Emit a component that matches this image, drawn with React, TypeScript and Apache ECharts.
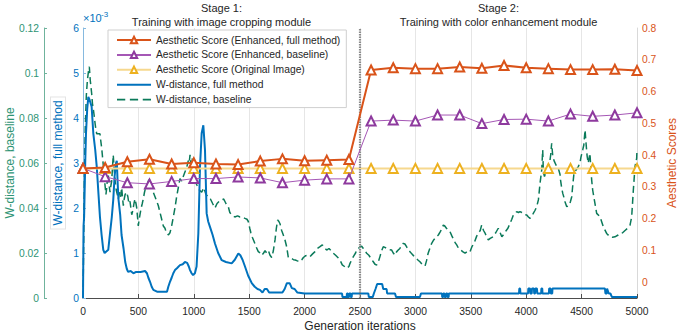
import React, { useEffect, useRef } from "react";
import * as echarts from "echarts";

const FONT = "'Liberation Sans', Arial, Helvetica, sans-serif";

const scoreIters = [0, 200, 400, 600, 800, 1000, 1200, 1400, 1600, 1800, 2000, 2200, 2400, 2600, 2800, 3000, 3200, 3400, 3600, 3800, 4000, 4200, 4400, 4600, 4800, 5000];
const scoreFull = [0.358, 0.361, 0.379, 0.387, 0.372, 0.376, 0.372, 0.37, 0.381, 0.388, 0.382, 0.384, 0.386, 0.668, 0.675, 0.672, 0.672, 0.677, 0.673, 0.682, 0.675, 0.672, 0.669, 0.669, 0.67, 0.666];
const scoreBaseline = [0.358, 0.332, 0.313, 0.309, 0.317, 0.326, 0.326, 0.331, 0.328, 0.313, 0.321, 0.325, 0.325, 0.507, 0.51, 0.507, 0.526, 0.526, 0.499, 0.512, 0.513, 0.507, 0.529, 0.522, 0.526, 0.533];
const scoreOriginal = [0.358, 0.358, 0.358, 0.358, 0.358, 0.358, 0.358, 0.358, 0.358, 0.358, 0.358, 0.358, 0.358, 0.358, 0.358, 0.358, 0.358, 0.358, 0.358, 0.358, 0.358, 0.358, 0.358, 0.358, 0.358, 0.358];

// W-distance, full method (x 1e-3)
const wFull: [number, number][] = [
  [0, 0], [5, 1.6], [10, 1.8], [20, 3.0], [27, 3.66], [38, 4.2], [48, 4.47], [60, 4.4], [78, 4.25], [93, 3.66], [110, 3.3], [124, 2.92], [140, 2.3], [153, 1.8], [168, 1.4], [183, 1.07], [195, 1.0], [228, 1.07], [244, 1.44], [260, 1.8], [273, 2.18], [285, 2.7], [298, 3.0], [305, 3.05], [312, 2.6], [320, 2.2], [336, 1.84], [348, 1.4], [366, 1.1], [381, 0.8], [395, 0.65], [407, 0.58], [430, 0.6], [455, 0.55], [480, 0.58], [520, 0.58], [560, 0.6], [577, 0.55], [590, 0.45], [605, 0.36], [620, 0.25], [635, 0.18], [668, 0.14], [758, 0.14], [770, 0.25], [785, 0.36], [800, 0.45], [815, 0.55], [830, 0.62], [848, 0.66], [875, 0.73], [900, 0.75], [920, 0.8], [940, 0.78], [955, 0.7], [966, 0.62], [980, 0.55], [993, 0.51], [1010, 0.55], [1025, 0.7], [1041, 1.44], [1056, 2.92], [1071, 3.66], [1086, 3.84], [1101, 3.29], [1116, 1.88], [1130, 1.7], [1146, 1.58], [1170, 1.4], [1191, 1.21], [1220, 1.0], [1252, 0.84], [1290, 0.8], [1342, 0.77], [1370, 0.85], [1402, 0.99], [1420, 0.95], [1440, 0.85], [1462, 0.7], [1490, 0.5], [1523, 0.33], [1550, 0.25], [1575, 0.2], [1597, 0.18], [1620, 0.12], [1640, 0.2], [1660, 0.2], [1680, 0.12], [1800, 0.12], [1820, 0.2], [1840, 0.33], [1865, 0.33], [1885, 0.22], [1910, 0.2], [1935, 0.12], [2000, 0.1], [2338, 0.1], [2342, 0.02], [2380, 0.02], [2382, 0.1], [2390, 0.1], [2392, 0.02], [2400, 0.02], [2402, 0.1], [2415, 0.1], [2417, 0.02], [2425, 0.02], [2427, 0.1], [2575, 0.1], [2580, 0.02], [2615, 0.02], [2625, 0.1], [2640, 0.2], [2655, 0.31], [2700, 0.31], [2710, 0.2], [2740, 0.2], [2745, 0.1], [2816, 0.1], [2825, 0.02], [3041, 0.02], [3050, 0.1], [3240, 0.1], [3242, 0.02], [3250, 0.02], [3252, 0.1], [3262, 0.1], [3264, 0.02], [3275, 0.02], [3277, 0.1], [3288, 0.1], [3290, 0.02], [3300, 0.02], [3302, 0.1], [3935, 0.1], [3938, 0.21], [3945, 0.21], [3948, 0.1], [4017, 0.1], [4019, 0.21], [4035, 0.21], [4037, 0.1], [4050, 0.1], [4052, 0.21], [4070, 0.21], [4072, 0.1], [4080, 0.1], [4082, 0.21], [4097, 0.21], [4100, 0.1], [4135, 0.1], [4137, 0.21], [4145, 0.21], [4147, 0.1], [4205, 0.1], [4207, 0.21], [4220, 0.21], [4222, 0.1], [4235, 0.1], [4237, 0.21], [4711, 0.21], [4715, 0.1], [4728, 0.1], [4730, 0.21], [4745, 0.1], [4760, 0.1], [4774, 0.02], [5000, 0.02]
];

// W-distance, baseline
const wBase: [number, number][] = [
  [0, 0], [5, 0.02], [12, 0.05], [20, 0.075], [30, 0.09], [40, 0.097], [50, 0.101], [57, 0.1028], [65, 0.097], [78, 0.091], [86, 0.086], [93, 0.084], [101, 0.081], [108, 0.078], [116, 0.075], [124, 0.073], [140, 0.073], [153, 0.073], [160, 0.07], [169, 0.0665], [183, 0.059], [191, 0.054], [199, 0.05], [207, 0.046], [214, 0.049], [220, 0.053], [228, 0.055], [236, 0.05], [244, 0.047], [252, 0.05], [259, 0.052], [266, 0.058], [273, 0.0636], [280, 0.058], [290, 0.052], [300, 0.048], [310, 0.046], [319, 0.044], [330, 0.047], [340, 0.045], [349, 0.049], [358, 0.044], [364, 0.041], [372, 0.044], [380, 0.046], [394, 0.047], [405, 0.045], [414, 0.042], [424, 0.043], [432, 0.04], [440, 0.037], [450, 0.039], [460, 0.042], [469, 0.044], [478, 0.042], [485, 0.04], [492, 0.036], [499, 0.032], [507, 0.035], [514, 0.037], [525, 0.04], [535, 0.042], [544, 0.044], [555, 0.047], [565, 0.049], [575, 0.05], [590, 0.052], [605, 0.053], [620, 0.05], [634, 0.047], [650, 0.045], [665, 0.043], [680, 0.041], [695, 0.038], [710, 0.035], [725, 0.032], [740, 0.031], [749, 0.0295], [760, 0.029], [770, 0.028], [785, 0.029], [800, 0.032], [815, 0.036], [830, 0.04], [845, 0.045], [860, 0.049], [875, 0.053], [890, 0.052], [905, 0.054], [920, 0.056], [936, 0.058], [950, 0.061], [958, 0.06], [966, 0.0636], [975, 0.059], [985, 0.062], [995, 0.057], [1010, 0.052], [1030, 0.05], [1050, 0.048], [1071, 0.047], [1090, 0.049], [1110, 0.046], [1131, 0.045], [1150, 0.044], [1170, 0.042], [1191, 0.04], [1210, 0.042], [1230, 0.043], [1252, 0.0435], [1270, 0.044], [1290, 0.042], [1311, 0.0406], [1325, 0.038], [1342, 0.037], [1370, 0.036], [1395, 0.0365], [1417, 0.036], [1440, 0.036], [1462, 0.0354], [1480, 0.035], [1492, 0.034], [1505, 0.031], [1515, 0.029], [1528, 0.027], [1545, 0.025], [1560, 0.023], [1582, 0.0206], [1600, 0.02], [1613, 0.019], [1630, 0.02], [1643, 0.021], [1658, 0.02], [1673, 0.021], [1688, 0.019], [1703, 0.018], [1718, 0.021], [1733, 0.0258], [1745, 0.031], [1757, 0.0347], [1768, 0.034], [1778, 0.033], [1793, 0.03], [1808, 0.028], [1823, 0.0258], [1838, 0.0228], [1853, 0.018], [1868, 0.0178], [1883, 0.0176], [1900, 0.017], [1915, 0.0169], [1935, 0.0165], [1958, 0.0161], [1975, 0.017], [1989, 0.018], [2010, 0.0188], [2030, 0.019], [2049, 0.0184], [2070, 0.0195], [2094, 0.0206], [2115, 0.022], [2139, 0.0228], [2160, 0.0236], [2175, 0.0225], [2199, 0.0213], [2220, 0.022], [2240, 0.021], [2259, 0.0199], [2280, 0.019], [2300, 0.018], [2319, 0.0169], [2340, 0.0147], [2360, 0.014], [2380, 0.0132], [2400, 0.014], [2410, 0.0154], [2425, 0.017], [2440, 0.0184], [2460, 0.02], [2470, 0.0213], [2485, 0.022], [2500, 0.0228], [2515, 0.023], [2530, 0.022], [2545, 0.021], [2560, 0.0199], [2580, 0.019], [2600, 0.0175], [2620, 0.0161], [2635, 0.015], [2651, 0.0147], [2665, 0.016], [2680, 0.0184], [2695, 0.021], [2710, 0.0228], [2725, 0.0225], [2740, 0.022], [2760, 0.0215], [2786, 0.0213], [2800, 0.02], [2816, 0.019], [2830, 0.0205], [2845, 0.0213], [2860, 0.022], [2875, 0.0235], [2891, 0.0243], [2905, 0.024], [2920, 0.0228], [2935, 0.0215], [2951, 0.0206], [2970, 0.0195], [2990, 0.0184], [3010, 0.0175], [3025, 0.0168], [3041, 0.0161], [3060, 0.015], [3075, 0.0145], [3087, 0.0142], [3100, 0.0165], [3115, 0.0199], [3130, 0.022], [3147, 0.0243], [3165, 0.0258], [3185, 0.027], [3207, 0.028], [3225, 0.0295], [3240, 0.031], [3252, 0.0324], [3265, 0.032], [3280, 0.031], [3295, 0.03], [3312, 0.0295], [3330, 0.0275], [3345, 0.026], [3360, 0.0245], [3373, 0.0236], [3390, 0.022], [3410, 0.0213], [3430, 0.0205], [3448, 0.0199], [3465, 0.0205], [3480, 0.021], [3493, 0.0206], [3510, 0.0228], [3530, 0.0243], [3553, 0.0275], [3570, 0.029], [3585, 0.03], [3598, 0.0324], [3615, 0.03], [3630, 0.0287], [3645, 0.027], [3658, 0.0258], [3675, 0.0265], [3700, 0.0272], [3725, 0.029], [3748, 0.031], [3765, 0.029], [3780, 0.0272], [3800, 0.0285], [3820, 0.03], [3835, 0.031], [3854, 0.0332], [3870, 0.035], [3884, 0.0369], [3900, 0.0375], [3914, 0.0384], [3930, 0.038], [3944, 0.0384], [3960, 0.038], [3975, 0.0376], [3990, 0.037], [4005, 0.0369], [4020, 0.036], [4035, 0.0354], [4050, 0.0365], [4064, 0.0376], [4080, 0.039], [4095, 0.0406], [4110, 0.0436], [4125, 0.051], [4140, 0.0569], [4149, 0.0658], [4155, 0.056], [4165, 0.054], [4175, 0.0555], [4190, 0.057], [4200, 0.059], [4215, 0.0613], [4222, 0.064], [4230, 0.0688], [4240, 0.0628], [4255, 0.0606], [4270, 0.059], [4290, 0.0576], [4305, 0.055], [4310, 0.0524], [4320, 0.049], [4330, 0.0465], [4345, 0.044], [4350, 0.0428], [4366, 0.0406], [4380, 0.0409], [4390, 0.0413], [4400, 0.043], [4411, 0.045], [4420, 0.05], [4431, 0.0554], [4450, 0.0569], [4470, 0.0584], [4485, 0.06], [4495, 0.0628], [4510, 0.0658], [4520, 0.068], [4531, 0.0747], [4540, 0.0688], [4550, 0.063], [4560, 0.0599], [4575, 0.0643], [4591, 0.0524], [4600, 0.048], [4615, 0.0436], [4636, 0.0376], [4666, 0.0361], [4696, 0.0317], [4726, 0.0287], [4756, 0.0272], [4780, 0.027], [4801, 0.0272], [4830, 0.028], [4847, 0.0287], [4870, 0.029], [4892, 0.03], [4915, 0.031], [4937, 0.0324], [4952, 0.0361], [4967, 0.048], [4982, 0.0584], [4997, 0.0621], [5000, 0.066]
];

const stageSplit = 2500;
const stageLabels = [
  { center: 1250, head: "Stage 1:", body: "Training with image cropping module" },
  { center: 3750, head: "Stage 2:", body: "Training with color enhancement module" },
];

const GRID = { left: 83, top: 28, width: 554, height: 270 };
const X_MAX = 5000;

const C_ORANGE = "#D95319";
const C_PURPLE = "#8E3A9E";
const C_YELLOW = "#EDB120";
const C_BLUE = "#0072BD";
const C_GREEN = "#0B7A5A";
const C_TEAL_AX = "#2E9474";
const C_TEXT = "#262626";

const SOLID_ICON = "path://M0,0H33V2H0Z";
const DASH_ICON = "path://M0,0H8V1.6H0Z M12.5,0H20.5V1.6H12.5Z M25,0H33V1.6H25Z";

export default function App() {
  const ref = useRef<HTMLDivElement>(null);
  useEffect(() => {
    if (!ref.current) return;
    const chart = echarts.init(ref.current, undefined, { renderer: "svg" });
    const xPix = (v: number) => GRID.left + (v / X_MAX) * GRID.width;
    const graphic: any[] = [];
    stageLabels.forEach((s) => {
      graphic.push({ type: "text", x: xPix(s.center), y: 8, style: { text: s.head, fontSize: 11, fontFamily: FONT, fill: C_TEXT, textAlign: "center", textVerticalAlign: "middle" } });
      graphic.push({ type: "text", x: xPix(s.center), y: 22, style: { text: s.body, fontSize: 11, fontFamily: FONT, fill: C_TEXT, textAlign: "center", textVerticalAlign: "middle" } });
    });
    graphic.push({ type: "text", x: 83, y: 18, style: { text: "×10", fontSize: 11, fontFamily: FONT, fill: C_BLUE, textAlign: "left", textVerticalAlign: "middle" } });
    graphic.push({ type: "text", x: 101, y: 14, style: { text: "-3", fontSize: 8, fontFamily: FONT, fill: C_BLUE, textAlign: "left", textVerticalAlign: "middle" } });

    const tickFont = { fontSize: 10.3, fontFamily: FONT };
    const nameFont = { fontSize: 12, fontFamily: FONT };

    chart.setOption({
      animation: false,
      backgroundColor: "#fff",
      textStyle: { fontFamily: FONT },
      grid: { left: GRID.left, top: GRID.top, width: GRID.width, height: GRID.height, containLabel: false, outerBoundsMode: "none" },
      legend: {
        left: 108,
        top: 30,
        orient: "vertical",
        itemWidth: 34,
        itemHeight: 8,
        itemGap: 4.9,
        padding: [5, 6, 3, 8],
        backgroundColor: "#fff",
        borderColor: "#cfcfcf",
        borderWidth: 1,
        selectedMode: false,
        textStyle: { fontSize: 10.3, color: C_TEXT, fontFamily: FONT },
        data: [
          { name: "Aesthetic Score (Enhanced, full method)" },
          { name: "Aesthetic Score (Enhanced, baseline)" },
          { name: "Aesthetic Score (Original Image)" },
          { name: "W-distance, full method", icon: SOLID_ICON },
          { name: "W-distance, baseline", icon: DASH_ICON },
        ],
      },
      xAxis: {
        type: "value",
        min: 0,
        max: X_MAX,
        interval: 500,
        axisLine: { show: true, onZero: false, lineStyle: { color: "#4d4d4d", width: 1 } },
        axisTick: { show: true, inside: true, length: 4, lineStyle: { color: "#4d4d4d" } },
        axisLabel: { ...tickFont, color: C_TEXT, margin: 8, formatter: (v: number) => String(v) },
        splitLine: { show: true, lineStyle: { color: "#e6e6e6", width: 1 } },
        name: "Generation iterations",
        nameLocation: "middle",
        nameGap: 22,
        nameMoveOverlap: false,
        nameTextStyle: { ...nameFont, color: C_TEXT },
      },
      yAxis: [
        {
          type: "value",
          position: "left",
          min: 0,
          max: 6,
          interval: 1,
          axisLine: { show: true, onZero: false, lineStyle: { color: "#86b9df", width: 1 } },
          axisTick: { show: true, inside: true, length: 3, lineStyle: { color: "#86b9df" } },
          axisLabel: { ...tickFont, color: C_BLUE, margin: 4 },
          splitLine: { show: false },
          name: "W-distance, full method",
          nameLocation: "middle",
          nameGap: 18,
          nameRotate: 90,
          nameMoveOverlap: false,
          nameTextStyle: { ...nameFont, color: C_BLUE, backgroundColor: "#fff", borderColor: "#e4e4e4", borderWidth: 1, padding: [1, 3, 1, 3] },
        },
        {
          type: "value",
          position: "left",
          offset: 39,
          min: 0,
          max: 0.12,
          interval: 0.02,
          axisLine: { show: true, onZero: false, lineStyle: { color: "#6fb39c", width: 1 } },
          axisTick: { show: true, inside: true, length: 3, lineStyle: { color: "#6fb39c" } },
          axisLabel: { ...tickFont, color: C_TEAL_AX, margin: 5 },
          splitLine: { show: false },
          name: "W-distance, baseline",
          nameLocation: "middle",
          nameGap: 28,
          nameRotate: 90,
          nameMoveOverlap: false,
          nameTextStyle: { ...nameFont, color: C_TEAL_AX },
        },
        {
          type: "value",
          position: "right",
          min: -0.05,
          max: 0.8,
          interval: 0.05,
          axisLine: { show: true, onZero: false, lineStyle: { color: "#d9d9d9", width: 1 } },
          axisTick: { show: false },
          axisLabel: {
            ...tickFont,
            color: C_ORANGE,
            margin: 5,
            formatter: (v: number) => {
              const k = Math.round(v * 100);
              if (k % 10 !== 0) return "";
              return String(k / 100);
            },
          },
          splitLine: { show: false },
          name: "Aesthetic Scores",
          nameLocation: "middle",
          nameGap: 28.5,
          nameRotate: 90,
          nameMoveOverlap: false,
          nameTextStyle: { ...nameFont, color: C_ORANGE },
        },
      ],
      series: [
        {
          type: "line",
          name: "W-distance, baseline",
          yAxisIndex: 1,
          data: wBase,
          symbol: "none",
          lineStyle: { color: C_GREEN, width: 1.5, type: [7, 4] },
          itemStyle: { color: C_GREEN },
          z: 2,
        },
        {
          type: "line",
          name: "W-distance, full method",
          yAxisIndex: 0,
          data: wFull,
          symbol: "none",
          lineStyle: { color: C_BLUE, width: 2 },
          itemStyle: { color: C_BLUE },
          z: 3,
          markLine: {
            silent: true,
            symbol: ["none", "none"],
            label: { show: false },
            lineStyle: { color: "#8a8a8a", width: 2.2, type: [1.5, 1] },
            data: [{ xAxis: stageSplit }],
          },
        },
        {
          type: "line",
          name: "Aesthetic Score (Original Image)",
          yAxisIndex: 2,
          data: scoreIters.map((x, i) => [x, scoreOriginal[i]]),
          symbol: "emptyTriangle",
          symbolSize: 9,
          lineStyle: { color: "#F6D88E", width: 2 },
          itemStyle: { color: C_YELLOW, borderColor: C_YELLOW, borderWidth: 1.2 },
          z: 4,
        },
        {
          type: "line",
          name: "Aesthetic Score (Enhanced, baseline)",
          yAxisIndex: 2,
          data: scoreIters.map((x, i) => [x, scoreBaseline[i]]),
          symbol: "emptyTriangle",
          symbolSize: 9,
          lineStyle: { color: "#A557B5", width: 1 },
          itemStyle: { color: C_PURPLE, borderColor: C_PURPLE, borderWidth: 1.2 },
          z: 5,
        },
        {
          type: "line",
          name: "Aesthetic Score (Enhanced, full method)",
          yAxisIndex: 2,
          data: scoreIters.map((x, i) => [x, scoreFull[i]]),
          symbol: "emptyTriangle",
          symbolSize: 9,
          lineStyle: { color: C_ORANGE, width: 2 },
          itemStyle: { color: C_ORANGE, borderColor: C_ORANGE, borderWidth: 2 },
          z: 6,
        },
      ],
      graphic,
    });
    return () => chart.dispose();
  }, []);
  return <div ref={ref} style={{ position: "fixed", left: 0, top: 0, width: 678, height: 335 }} />;
}
